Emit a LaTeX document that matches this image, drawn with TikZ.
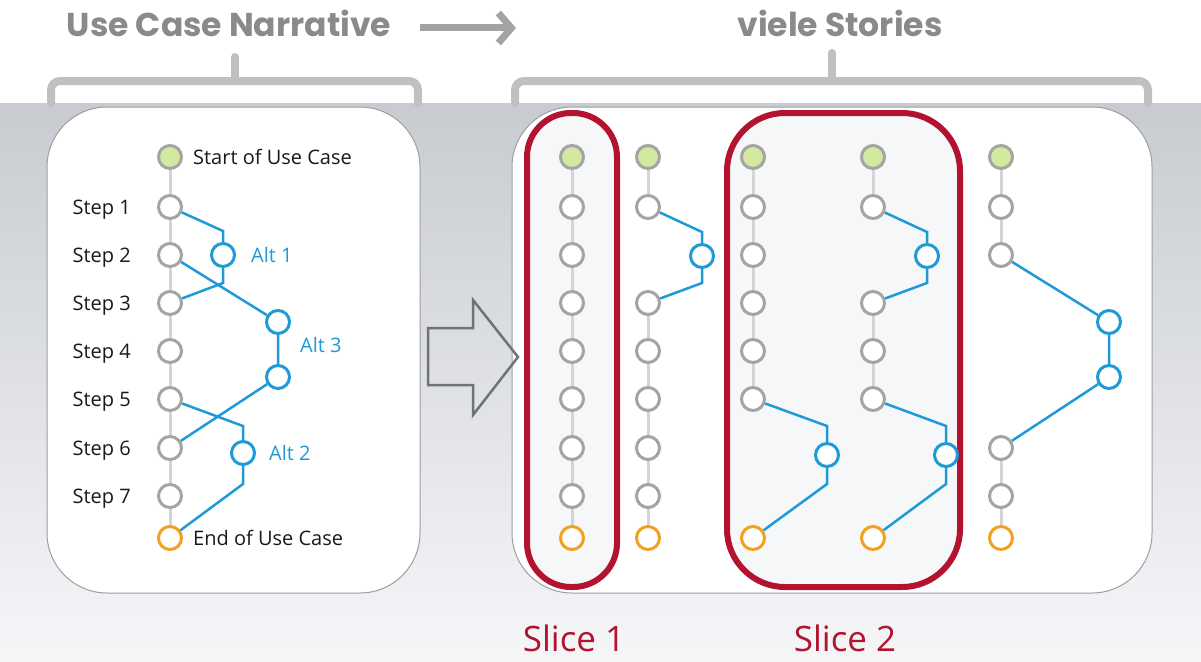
\documentclass[tikz,border=0pt]{standalone}
\usepackage{fontspec}
\setmainfont{Open Sans}
\newfontfamily\headfont{Poppins}
\usetikzlibrary{positioning,arrows.meta}

\definecolor{altblue}{HTML}{1E9AD6}
\definecolor{ringgray}{HTML}{A4A4A4}
\definecolor{trackgray}{HTML}{D4D4D6}
\definecolor{startgreen}{HTML}{D3E9A0}
\definecolor{endorange}{HTML}{F0A21E}
\definecolor{slicered}{HTML}{B3132F}
\definecolor{headgray}{HTML}{8A8A8A}
\definecolor{bracegray}{HTML}{C0C0C0}
\definecolor{bandtop}{HTML}{C8CBD0}
\definecolor{bandbottom}{HTML}{F5F6F8}
\definecolor{panelline}{HTML}{9C9EA2}
\definecolor{hollowgray}{HTML}{6E737A}
\definecolor{slicefill}{HTML}{F6F7F9}

\begin{document}
\begin{tikzpicture}[x=1pt, y=-1pt,
    stepnode/.style={circle, draw=ringgray, line width=3pt, fill=white,
                     minimum size=23pt, inner sep=0pt},
    startnode/.style={stepnode, fill=startgreen},
    endnode/.style={stepnode, draw=endorange},
    altnode/.style={stepnode, draw=altblue},
    track/.style={draw=trackgray, line width=3pt},
    altline/.style={draw=altblue, line width=2.5pt},
    lbl/.style={font=\fontsize{20}{24}\selectfont, text=black!90, inner sep=0pt,
                text height=14pt, text depth=0pt},
    altlbl/.style={lbl, text=altblue},
    head/.style={font=\headfont\bfseries\fontsize{33}{40}\selectfont, text=headgray,
                 inner sep=0pt, text height=23pt, text depth=0pt},
    slicelbl/.style={font=\fontsize{35}{42}\selectfont, text=slicered, inner sep=0pt,
                     text height=26pt, text depth=0pt},
    panel/.style={draw=panelline, line width=1pt, fill=white, rounded corners=60pt},
    slicebox/.style={draw=slicered, line width=6pt, fill=slicefill},
    brace/.style={draw=bracegray, line width=8pt, rounded corners=9pt, line cap=round}
]
  \useasboundingbox (0,0) rectangle (1201,661);

  % Background band and panels
  \fill[top color=bandtop, bottom color=bandbottom] (0,103) rectangle (1201,661);
  \draw[brace] (51,103) -- (51,81) -- (418,81) -- (418,103);
  \draw[brace] (235,57) -- (235,81);
  \draw[brace] (515,103) -- (515,81) -- (1148,81) -- (1148,103);
  \draw[brace] (832,53) -- (832,81);
  \draw[panel] (47,107) rectangle (420,593);
  \draw[panel] (512,107) rectangle (1152,593);
  \draw[slicebox, rounded corners=44pt] (527,113) rectangle (617,587);
  \draw[slicebox, rounded corners=58pt] (727,113) rectangle (960,587);

  % Headings
  \node[head] (ucn) at (229,25) {Use Case Narrative};
  \node[head] (stories) at (840,25) {viele Stories};
  \coordinate (arrowtail) at (420,28);
  \coordinate (arrowtip) at (516,28);
  \draw[bracegray!85!black, line width=7pt, -{Straight Barb[length=13pt, width=30pt]}]
    (arrowtail) -- (arrowtip);

  % Hollow arrow
  \draw[hollowgray, line width=2.5pt, line join=miter]
    (428,328) -- (473,328) -- (473,300) -- (518,357) -- (473,415) -- (473,385)
    -- (428,385) -- cycle;

  % Left panel: the narrative
  \node[startnode] (l0) at (170,157) {};
  \node[stepnode]  (l1) at (170,207) {};
  \node[stepnode]  (l2) at (170,255) {};
  \node[stepnode]  (l3) at (170,303) {};
  \node[stepnode]  (l4) at (170,351) {};
  \node[stepnode]  (l5) at (170,399) {};
  \node[stepnode]  (l6) at (170,448) {};
  \node[stepnode]  (l7) at (170,496) {};
  \node[endnode]   (l8) at (170,538) {};
  \node[altnode] (la1)  at (223,255) {};
  \node[altnode] (la3t) at (278,322) {};
  \node[altnode] (la3b) at (278,377) {};
  \node[altnode] (la2)  at (243,453) {};

  \node[lbl, right=10pt of l0] {Start of Use Case};
  \node[lbl, right=10pt of l8] {End of Use Case};
  \node[lbl, left=26pt of l1] {Step 1};
  \node[lbl, left=26pt of l2] {Step 2};
  \node[lbl, left=26pt of l3] {Step 3};
  \node[lbl, left=26pt of l4] {Step 4};
  \node[lbl, left=26pt of l5] {Step 5};
  \node[lbl, left=26pt of l6] {Step 6};
  \node[lbl, left=26pt of l7] {Step 7};
  \node[altlbl, right=15pt of la1] {Alt 1};
  \node[altlbl, anchor=west] at (300,345) {Alt 3};
  \node[altlbl, right=13pt of la2] {Alt 2};

  \draw[track] (l0) -- (l1) -- (l2) -- (l3) -- (l4) -- (l5) -- (l6) -- (l7) -- (l8);
  \draw[altline] (l1) -- ([yshift=11pt]la1.north) -- (la1) -- ([yshift=-15pt]la1.south) -- (l3);
  \draw[altline] (l2) -- (la3t) -- (la3b) -- (l6);
  \draw[altline] (l5) -- ([yshift=14pt]la2.north) -- (la2) -- ([yshift=-18pt]la2.south) -- (l8);

  % Story A: main flow
  \node[startnode] (a0) at (572,157) {};
  \node[stepnode]  (a1) at (572,207) {};
  \node[stepnode]  (a2) at (572,255) {};
  \node[stepnode]  (a3) at (572,303) {};
  \node[stepnode]  (a4) at (572,351) {};
  \node[stepnode]  (a5) at (572,399) {};
  \node[stepnode]  (a6) at (572,448) {};
  \node[stepnode]  (a7) at (572,496) {};
  \node[endnode]   (a8) at (572,538) {};
  \draw[track] (a0) -- (a1) -- (a2) -- (a3) -- (a4) -- (a5) -- (a6) -- (a7) -- (a8);

  % Story B: alt 1
  \node[startnode] (b0) at (648,157) {};
  \node[stepnode]  (b1) at (648,207) {};
  \node[stepnode]  (b3) at (648,303) {};
  \node[stepnode]  (b4) at (648,351) {};
  \node[stepnode]  (b5) at (648,399) {};
  \node[stepnode]  (b6) at (648,448) {};
  \node[stepnode]  (b7) at (648,496) {};
  \node[endnode]   (b8) at (648,538) {};
  \node[altnode]   (ba) at (702,256) {};
  \draw[track] (b0) -- (b1);
  \draw[track] (b3) -- (b4) -- (b5) -- (b6) -- (b7) -- (b8);
  \draw[altline] (b1) -- ([yshift=11pt]ba.north) -- (ba) -- ([yshift=-14pt]ba.south) -- (b3);

  % Story C: alt 2
  \node[startnode] (c0) at (753,157) {};
  \node[stepnode]  (c1) at (753,207) {};
  \node[stepnode]  (c2) at (753,255) {};
  \node[stepnode]  (c3) at (753,303) {};
  \node[stepnode]  (c4) at (753,351) {};
  \node[stepnode]  (c5) at (753,399) {};
  \node[endnode]   (c8) at (753,538) {};
  \node[altnode]   (ca) at (827,455) {};
  \draw[track] (c0) -- (c1) -- (c2) -- (c3) -- (c4) -- (c5);
  \draw[altline] (c5) -- ([yshift=16pt]ca.north) -- (ca) -- ([yshift=-16pt]ca.south) -- (c8);

  % Story D: alt 1 and alt 2
  \node[startnode] (d0) at (873,157) {};
  \node[stepnode]  (d1) at (873,207) {};
  \node[stepnode]  (d3) at (873,303) {};
  \node[stepnode]  (d4) at (873,351) {};
  \node[stepnode]  (d5) at (873,399) {};
  \node[endnode]   (d8) at (873,538) {};
  \node[altnode]   (da1) at (927,256) {};
  \node[altnode]   (da2) at (946,455) {};
  \draw[track] (d0) -- (d1);
  \draw[track] (d3) -- (d4) -- (d5);
  \draw[altline] (d1) -- ([yshift=11pt]da1.north) -- (da1) -- ([yshift=-14pt]da1.south) -- (d3);
  \draw[altline] (d5) -- ([yshift=16pt]da2.north) -- (da2) -- ([yshift=-16pt]da2.south) -- (d8);

  % Story E: alt 3
  \node[startnode] (e0) at (1001,157) {};
  \node[stepnode]  (e1) at (1001,207) {};
  \node[stepnode]  (e2) at (1001,255) {};
  \node[stepnode]  (e6) at (1001,448) {};
  \node[stepnode]  (e7) at (1001,496) {};
  \node[endnode]   (e8) at (1001,538) {};
  \node[altnode]   (ea1) at (1109,322) {};
  \node[altnode]   (ea2) at (1109,377) {};
  \draw[track] (e0) -- (e1) -- (e2);
  \draw[track] (e6) -- (e7) -- (e8);
  \draw[altline] (e2) -- (ea1) -- (ea2) -- (e6);

  % Slice labels
  \node[slicelbl] (slice1) at (574,638) {Slice 1};
  \node[slicelbl] (slice2) at (845,638) {Slice 2};
\end{tikzpicture}
\end{document}
